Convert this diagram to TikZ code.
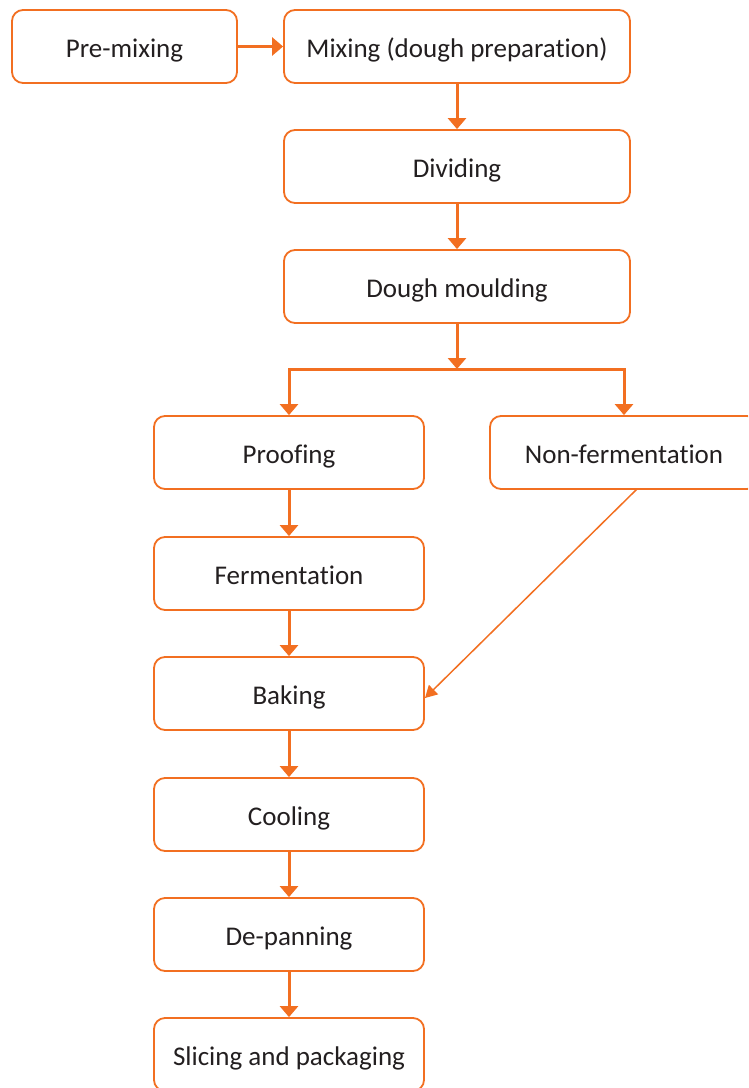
\documentclass[tikz,border=0pt]{standalone}
\usepackage{fontspec}
\setmainfont{Carlito}[Ligatures={NoCommon}]
\usetikzlibrary{arrows.meta}
\definecolor{flow}{HTML}{F26F21}
\definecolor{ink}{HTML}{231F20}
\tikzset{
  stepbox/.style={draw=flow, line width=1.8pt, rounded corners=11pt, fill=white,
    minimum height=73pt, text=ink, font=\fontsize{27}{32}\selectfont, inner sep=0pt,
    text height=21pt, text depth=0pt},
  wide/.style={stepbox, minimum width=346pt},
  narrow/.style={stepbox, minimum width=270pt},
  link/.style={draw=flow, line width=3pt, -{Triangle[width=18pt,length=11pt]}},
  thinlink/.style={draw=flow, line width=1.5pt, -{Triangle[width=13pt,length=12pt]}}
}
\begin{document}
\begin{tikzpicture}[x=1pt,y=-1pt]
\useasboundingbox (0,0) rectangle (748,1088);
\begin{scope}
\clip (0,0) rectangle (748,1088);
% top row
\node[stepbox, minimum width=225pt] (pre) at (124.5,46.5) {Pre-mixing};
\node[wide] (mix) at (457,46.5) {Mixing (dough preparation)};
\node[wide] (div) at (457,166.5) {Dividing};
\node[wide] (mould) at (457,286.5) {Dough moulding};
% two branches
\node[narrow] (proof) at (289,452.5) {Proofing};
\node[stepbox, minimum width=268pt] (nonf) at (624,452.5) {Non-fermentation};
% main line
\node[narrow] (ferm) at (289,573.5) {Fermentation};
\node[narrow] (bake) at (289,693.5) {Baking};
\node[narrow] (cool) at (289,814.5) {Cooling};
\node[narrow] (depan) at (289,934.5) {De-panning};
\node[narrow] (slice) at (289,1054.5) {Slicing and packaging};
\coordinate (split) at (457,369);
\coordinate (nfout) at (637,489);
\coordinate (bakein) at (425,698);
% connectors
\draw[link] (pre) -- (mix);
\draw[link] (mix) -- (div);
\draw[link] (div) -- (mould);
\draw[link] (mould) -- (split);
\draw[link] (split) -| (proof.north);
\draw[link] (split) -| (nonf.north);
\draw[link] (proof) -- (ferm);
\draw[link] (ferm) -- (bake);
\draw[link] (bake) -- (cool);
\draw[link] (cool) -- (depan);
\draw[link] (depan) -- (slice);
\draw[thinlink] (nfout) -- (bakein);
\end{scope}
\end{tikzpicture}
\end{document}
